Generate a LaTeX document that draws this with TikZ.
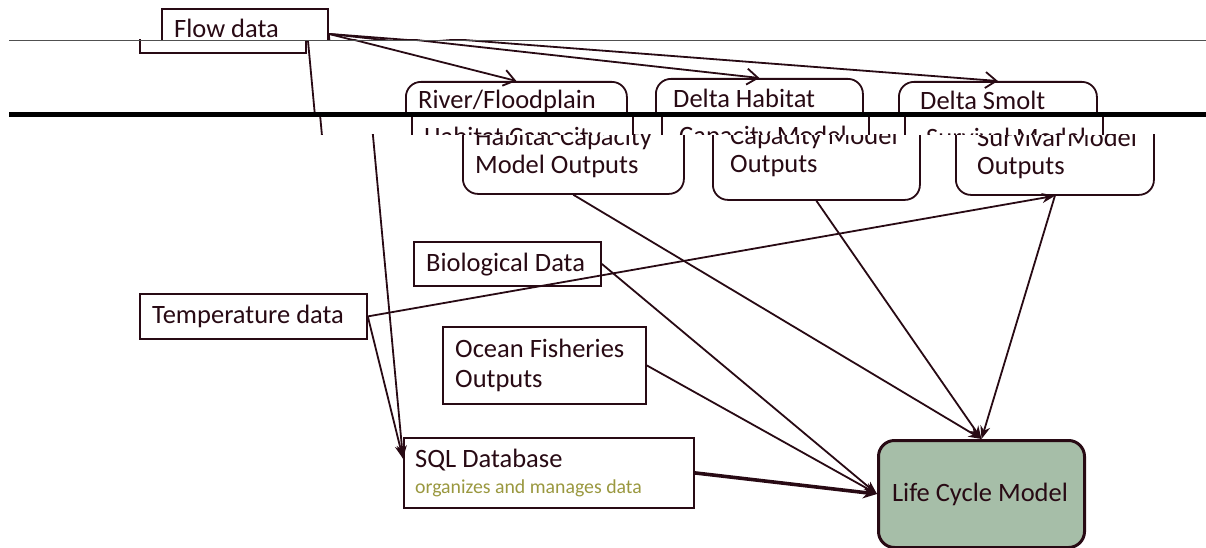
\documentclass[tikz,border=0pt]{standalone}
\usepackage{fontspec}
\setmainfont{Carlito}
\usetikzlibrary{arrows.meta,calc}
\definecolor{ink}{RGB}{40,10,20}
\definecolor{olivetxt}{RGB}{154,152,63}
\definecolor{sage}{RGB}{166,190,168}
\definecolor{rule}{RGB}{80,80,80}
\tikzset{
  box/.style={draw=ink, line width=1.8pt, fill=white, inner sep=0pt, anchor=north west},
  rbox/.style={box, rounded corners=15pt},
  lcmbox/.style={box, rounded corners=16pt, fill=sage, line width=3pt},
  txt/.style={anchor=base west, inner sep=0pt, text=ink, font=\fontsize{26.5}{29}\selectfont},
  subtxt/.style={anchor=base west, inner sep=0pt, text=olivetxt, font=\fontsize{19.8}{22}\selectfont},
  conn/.style={draw=ink, line width=1.8pt},
  arr/.style={conn, -{Stealth[length=13pt,width=10pt]}},
  thickarr/.style={conn, line width=3.6pt, -{Stealth[length=14pt,width=12pt]}},
  toparr/.style={conn, -{Straight Barb[length=11pt,width=16pt]}},
}
\newcommand\mkbox[6]{\node[#2, minimum width={#5-#3}, minimum height={#6-#4}] (#1) at (#3,#4) {};}
% boxes and connectors of the true layout
\newcommand\diagshapes{%
  \mkbox{flow}{box}{196}{11}{362}{61}
  \mkbox{river}{rbox}{462}{90}{683}{193}
  \mkbox{delta}{rbox}{712}{87}{919}{199}
  \mkbox{smolt}{rbox}{955}{90}{1153}{194}
  \mkbox{bio}{box}{413}{241}{600}{285}
  \mkbox{temp}{box}{139}{293}{366}{338}
  \mkbox{ocean}{box}{442}{326}{645}{403}
  \mkbox{sql}{box}{403}{437}{693}{507}
  \mkbox{lcm}{lcmbox}{877}{439}{1083}{546}
  \coordinate (sqlin) at ($(sql.north west)!0.3!(sql.south west)$);
  \draw[toparr] (flow.east) -- (river.north);
  \draw[toparr] (flow.east) -- (delta.north);
  \draw[toparr] (flow.east) -- (smolt.north);
  \draw[arr] (flow.east) -- (sqlin);
  \draw[arr] (temp.east) -- (sqlin);
  \draw[arr] (temp.east) -- (smolt.south);
  \draw[arr] (river.south) -- (lcm.north);
  \draw[arr] (delta.south) -- (lcm.north);
  \draw[arr] (smolt.south) -- (lcm.north);
  \draw[arr] (bio.east) -- (lcm.west);
  \draw[arr] (ocean.east) -- (lcm.west);
  \draw[thickarr] (sql.east) -- (lcm.west);
}
% texts, grouped by the band in which they show
\newcommand\txtflow{\node[txt] (flowT) at (209,41) {Flow data};}
\newcommand\txtone{%
  \node[txt] (riverT1) at (475,118) {River/Floodplain};
  \node[txt] (deltaT1) at (730,117) {Delta Habitat};
  \node[txt] (smoltT1) at (977,119) {Delta Smolt};
}
\newcommand\txttwo{%
  \node[txt] (riverT2) at (475,146) {Habitat Capacity};
  \node[txt] (deltaT2) at (730,145) {Capacity Model};
  \node[txt] (smoltT2) at (977,147) {Survival Model};
}
\newcommand\txtrest{%
  \node[txt] (riverT3) at (475,174) {Model Outputs};
  \node[txt] (deltaT3) at (730,173) {Outputs};
  \node[txt] (smoltT3) at (977,175) {Outputs};
  \node[txt] (bioT) at (426,271) {Biological Data};
  \node[txt] (tempT) at (152,323) {Temperature data};
  \node[txt] (oceanT1) at (455,357) {Ocean Fisheries};
  \node[txt] (oceanT2) at (455,387) {Outputs};
  \node[txt] (sqlT) at (415,467) {SQL Database};
  \node[subtxt] (sqlS) at (415,493) {organizes and manages data};
  \node[txt, anchor=base] (lcmT) at (980,501) {Life Cycle Model};
}
\begin{document}
\begin{tikzpicture}[x=1pt,y=-1pt]
  \useasboundingbox (0,0) rectangle (1206,548);
  \fill[white] (0,0) rectangle (1206,548);
  % lower region: true layout
  \begin{scope}
    \clip (0,135) rectangle (1206,548);
    \diagshapes \txttwo \txtrest
  \end{scope}
  % band 115-135
  \begin{scope}
    \clip (0,115) rectangle (1206,135);
    \begin{scope}[shift={(-51,0)}]\diagshapes \txttwo\end{scope}
  \end{scope}
  % band 40-115
  \begin{scope}
    \clip (0,40) rectangle (1206,115);
    \begin{scope}[shift={(-57,-9)}]\diagshapes \txtone\end{scope}
  \end{scope}
  % band 0-40
  \begin{scope}
    \clip (0,0) rectangle (1206,40);
    \begin{scope}[shift={(-35,-3)}]\diagshapes \txtflow\end{scope}
  \end{scope}
  % band seams
  \coordinate (seamAl) at (9,40.5);
  \coordinate (seamAr) at (1206,40.5);
  \coordinate (seamBl) at (9,114.5);
  \coordinate (seamBr) at (1206,114.5);
  \draw[rule, line width=1.5pt] (seamAl) -- (seamAr);
  \draw[black, line width=4.5pt] (seamBl) -- (seamBr);
\end{tikzpicture}
\end{document}
